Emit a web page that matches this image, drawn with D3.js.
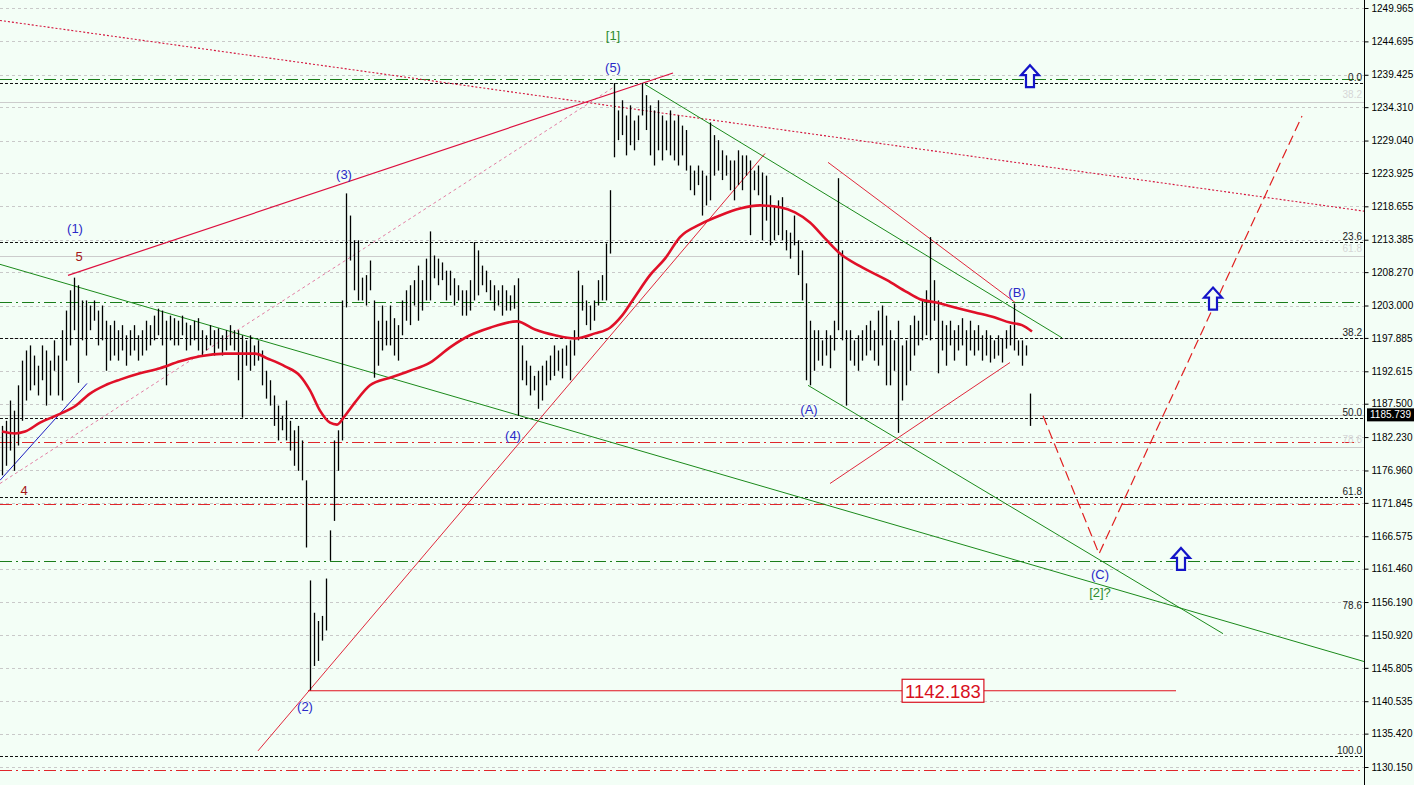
<!DOCTYPE html>
<html><head><meta charset="utf-8">
<script src="https://cdn.jsdelivr.net/npm/d3@7"></script>
<style>body{margin:0;background:#f3fef6;} svg{display:block;}</style>
</head><body><svg id="c" width="1414" height="785"></svg>
<script>
// ---------- DATA ----------
const priceTicks = [1249.965,1244.695,1239.425,1234.310,1229.040,1223.925,1218.655,1213.385,1208.270,1203.000,1197.885,1192.615,1187.500,1182.230,1176.960,1171.845,1166.575,1161.460,1156.190,1150.920,1145.805,1140.535,1135.420,1130.150];
const lastPrice = 1185.739;
const highs = [
1184.0,1184.8,1188.0,1186.4,1190.4,1194.3,1195.9,1196.7,1195.1,1193.5,
1196.7,1195.9,1194.3,1197.5,1195.1,1199.1,1202.2,1205.4,1207.4,1206.2,
1203.8,1203.8,1203.0,1203.8,1202.2,1203.0,1200.6,1199.9,1200.6,1199.1,
1199.9,1198.3,1199.1,1199.9,1198.3,1199.1,1200.6,1199.9,1201.4,1202.5,
1202.2,1200.6,1201.4,1201.0,1200.6,1201.4,1200.3,1199.9,1200.6,1201.0,
1199.1,1198.3,1199.9,1199.1,1199.4,1198.3,1199.1,1199.9,1199.1,1199.1,
1198.3,1197.5,1198.3,1196.7,1197.5,1195.9,1192.7,1191.2,1188.8,1187.2,
1185.6,1188.0,1184.8,1183.3,1184.0,1181.7,1175.4,1159.6,1154.5,1153.2,
1154.0,1159.9,1167.5,1181.7,1183.3,1203.8,1220.7,1217.2,1213.3,1213.3,
1207.4,1207.8,1210.1,1203.8,1200.6,1203.0,1200.6,1203.0,1201.0,1199.9,
1203.8,1205.4,1206.2,1207.0,1209.3,1207.0,1210.4,1214.7,1210.9,1210.4,
1209.8,1208.5,1208.5,1207.3,1206.2,1205.4,1205.4,1207.0,1213.0,1211.7,
1209.3,1208.5,1207.0,1206.2,1205.4,1206.2,1205.4,1204.6,1206.2,1207.3,
1196.7,1194.3,1193.5,1191.9,1192.7,1193.5,1194.3,1195.1,1196.7,1195.9,
1196.2,1196.7,1197.5,1199.1,1208.5,1206.2,1203.8,1203.0,1203.8,1207.0,
1207.8,1212.8,1221.2,1238.1,1233.8,1235.4,1233.0,1234.6,1232.2,1233.0,
1238.1,1236.2,1234.6,1233.8,1235.4,1233.0,1232.2,1233.8,1232.2,1233.0,
1231.4,1230.7,1225.1,1224.3,1225.1,1224.3,1223.5,1231.9,1229.9,1229.1,
1227.5,1226.7,1225.9,1225.9,1227.5,1226.7,1226.7,1225.9,1224.3,1225.1,
1224.0,1223.5,1220.4,1218.8,1219.6,1220.1,1214.9,1214.5,1217.2,1213.3,
1211.7,1206.5,1200.6,1199.1,1199.1,1197.5,1199.1,1198.3,1200.6,1223.1,
1211.7,1199.1,1199.1,1197.5,1198.3,1199.1,1199.9,1200.6,1199.1,1202.2,
1203.0,1201.4,1199.1,1197.5,1200.6,1196.7,1197.5,1199.9,1201.4,1200.6,
1203.8,1205.4,1213.8,1207.0,1203.8,1200.6,1199.9,1200.6,1199.1,1199.9,
1201.0,1199.1,1200.6,1199.1,1199.9,1198.3,1199.1,1198.3,1197.5,1198.3,
1197.8,1199.1,1199.9,1203.3,1197.5,1197.5,1196.7,1189.1];
const lows = [
1176.2,1177.7,1180.1,1176.9,1180.9,1184.8,1188.0,1189.6,1190.4,1188.8,
1191.2,1187.2,1188.8,1192.7,1188.8,1188.0,1194.3,1196.7,1199.1,1190.8,
1197.5,1195.1,1199.1,1200.6,1196.7,1197.5,1192.7,1194.3,1195.1,1194.3,
1195.9,1193.5,1195.1,1195.9,1194.3,1195.1,1195.9,1196.7,1197.5,1198.3,
1196.7,1190.4,1197.5,1196.7,1196.7,1198.3,1195.9,1196.7,1197.5,1195.9,
1195.1,1195.9,1196.7,1195.1,1196.2,1195.1,1195.9,1196.7,1195.9,1191.2,
1185.3,1193.5,1192.7,1193.5,1194.3,1190.4,1188.3,1187.2,1184.0,1181.7,
1183.3,1181.7,1180.1,1177.7,1176.9,1175.4,1164.8,1142.183,1146.1,1146.9,
1150.1,1151.7,1162.7,1169.0,1176.9,1181.7,1202.7,1210.1,1205.4,1203.8,
1203.8,1203.0,1205.4,1191.6,1193.5,1195.9,1196.7,1196.7,1195.1,1194.3,
1198.3,1200.6,1199.9,1203.0,1200.6,1202.2,1203.8,1203.8,1207.3,1206.2,
1207.0,1203.8,1204.6,1203.0,1203.8,1201.4,1201.4,1202.2,1203.8,1204.6,
1206.2,1205.1,1203.8,1202.2,1203.0,1201.4,1202.2,1202.2,1202.5,1185.6,
1191.2,1190.4,1188.8,1189.6,1186.7,1188.0,1190.4,1191.2,1191.9,1192.7,
1191.5,1193.5,1191.2,1195.1,1197.5,1202.2,1199.9,1199.1,1200.6,1203.0,
1203.8,1203.8,1211.2,1226.4,1229.1,1229.9,1226.7,1228.3,1227.5,1229.1,
1233.0,1230.7,1226.7,1225.1,1227.5,1225.9,1227.5,1226.7,1225.9,1225.1,
1226.7,1224.3,1221.2,1220.4,1222.0,1217.2,1218.8,1219.6,1223.5,1224.3,
1222.8,1223.5,1221.2,1219.6,1222.0,1221.2,1223.5,1214.1,1221.2,1220.4,
1213.3,1216.4,1212.5,1213.3,1214.1,1213.3,1211.7,1210.4,1212.5,1207.8,
1203.8,1191.2,1190.4,1192.7,1194.3,1193.5,1195.1,1193.1,1195.9,1199.1,
1197.5,1187.2,1194.3,1193.5,1192.7,1194.3,1195.1,1195.9,1194.3,1193.5,
1196.7,1190.4,1190.4,1192.7,1182.9,1188.0,1190.4,1192.7,1195.1,1196.7,
1197.5,1198.3,1197.5,1200.6,1192.3,1195.9,1193.5,1196.7,1194.3,1195.9,
1196.7,1193.5,1195.9,1195.1,1195.9,1194.3,1195.1,1194.0,1194.6,1195.1,
1194.0,1196.2,1196.7,1195.9,1195.1,1193.5,1195.1,1184.0];

// moving average (bar index, price)
const maIdx = [0,3.25,5.75,9.5,14.5,18.25,22,25.75,29.5,34.5,39.5,44.5,49.5,55.75,63.25,66.5,70.75,74.5,77,79.5,82,83.75,85.75,88.25,92,97,102,107,112,117,122,128.75,133.25,138.25,143.25,148.25,152,155,158.25,162,165.75,169.5,174.5,179.5,184.5,189.5,194.5,198.25,202,205.75,209.5,214.5,221.25,226.25,229.5,233.25,238.25,243.25,248.25,252,255,257.5];
const maVal = [1183.1,1182.8,1183.1,1184.5,1185.9,1187.1,1189.1,1190.4,1191.3,1192.3,1193.1,1194.2,1195.0,1195.4,1195.4,1194.6,1193.4,1191.9,1189.6,1186.4,1184.5,1184.2,1185.6,1187.7,1190.4,1191.6,1192.7,1194.0,1196.4,1198.3,1199.5,1200.5,1199.2,1198.3,1197.8,1198.6,1199.5,1201.4,1204.4,1207.8,1210.4,1213.8,1215.8,1217.2,1218.3,1218.8,1218.5,1217.7,1216.1,1213.6,1211.2,1209.2,1207.0,1205.1,1204.0,1203.5,1202.7,1201.9,1201.1,1200.3,1199.9,1198.9];

// Fibonacci levels
const fibLevels = [1238.2,1213.1,1197.8,1185.2,1172.7,1154.8,1131.9];
const fibLabels = ["0.0","23.6","38.2","50.0","61.8","78.6","100.0"];
const fibLabelOnly = ["78.6"];
const ghostLevels = [1235.2,1210.8,1180.6];
const ghostLabels = ["38.2","61.8","78.6"];
const greenLevels = [1238.7,1203.6,1162.6];
const redLevels = [1181.4,1171.6,1129.7];

// trend lines: [[i1,p1],[i2,p2]]
const redDotted = [[-0.5,1248.0],[340.5,1217.9]];
const redUpper = [[16.5,1207.75],[167.75,1239.7]];
const pinkDashed = [[-0.5,1174.9],[153.25,1237.6]];
const blueLine = [[-0.5,1175.4],[21.25,1190.7]];
const redRising = [[64,1132.7],[190.75,1227.0]];
const lowLevel = [[76.5,1142.183],[293.5,1142.183]];
const greenLong = [[-0.5,1209.5],[340.5,1146.8]];
const greenTop = [[160.75,1237.9],[265,1197.9]];
const greenWedge = [[201.5,1190.4],[305.25,1151.2]];
const redWedgeUp = [[206.5,1225.6],[253.25,1203.5]];
const redWedgeLow = [[207,1174.9],[252,1194.0]];
const projection = [[260.25,1185.6],[274.25,1163.8],[325,1232.9]];

// arrows (bar index, price)
const arrows = [[257,1239.2],[302.75,1204.1],[294.75,1163.0]];

// wave labels
const waveText = ["[1]","(5)","(3)","(1)","5","4","(4)","(2)","(A)","(B)","(C)","[2]?"];
const waveIdx = [152.75,152.75,85.5,18.25,19.25,5.5,127.75,75.75,201.75,253.75,274.5,274.5];
const wavePrice = [1244.9,1239.8,1222.9,1214.5,1210.0,1173.1,1181.8,1139.0,1185.9,1204.3,1159.9,1157.0];
const waveKind = ["g","b","b","b","r","r","b","b","b","b","b","g"];
const lowLabel = "1142.183";
const lowLabelIdx = 235.25;

// ---------- DRAW ----------
const svg = d3.select("#c");
const W = 1414, H = 785, plotR = 1364;
const x = d3.scaleLinear().domain([-0.5, 340.5]).range([0, plotR]);
const y = d3.scaleLinear().domain([1130.15, 1249.965]).range([767, 8]);
const font = "'Liberation Sans', Arial, sans-serif";

svg.append("rect").attr("width", W).attr("height", H).attr("fill", "#f3fef6");

const g = svg.append("g");
const hline = (p, color, dash, w) => g.append("line")
  .attr("x1", 0).attr("x2", plotR)
  .attr("y1", Math.round(y(p)) + 0.5).attr("y2", Math.round(y(p)) + 0.5)
  .attr("stroke", color).attr("stroke-width", w || 1)
  .attr("stroke-dasharray", dash);

// grid
priceTicks.forEach(p => hline(p, "#c9c9c9", "3,3"));
// ghost fib
ghostLevels.forEach(p => hline(p, "#cccccc", null));
hline(lastPrice, "#c4c4c4", null);
// green / red dash-dot
greenLevels.forEach(p => hline(p, "#1a7d1a", "12,4,2,4"));
redLevels.forEach(p => hline(p, "#e0262b", "12,4,2,4"));
// fib lines
fibLevels.forEach((p, k) => { if (!fibLabelOnly.includes(fibLabels[k])) hline(p, "#111", "3,2"); });

fibLevels.forEach((p, k) => g.append("text")
  .attr("x", 1362).attr("y", y(p) - 2).attr("text-anchor", "end")
  .attr("font-family", font).attr("font-size", "10px").attr("fill", "#222")
  .text(fibLabels[k]));
ghostLevels.forEach((p, k) => g.append("text")
  .attr("x", 1362).attr("y", y(p) - 4).attr("text-anchor", "end")
  .attr("font-family", font).attr("font-size", "10px").attr("fill", "#d6d6d6")
  .text(ghostLabels[k]));

// trend lines
const ln = d3.line().x(d => x(d[0])).y(d => y(d[1]));
const path = (pts, color, w, dash, op) => g.append("path").attr("d", ln(pts))
  .attr("fill", "none").attr("stroke", color).attr("stroke-width", w)
  .attr("stroke-dasharray", dash).attr("opacity", op == null ? 1 : op);

path(pinkDashed, "#e0709a", 1, "3,3", 0.9);
path(redDotted, "#d4143c", 1.1, "2,2");
path(redUpper, "#dd1040", 1.2, null);
path(blueLine, "#1c1cc0", 1, null);
path(redRising, "#e0283c", 1, null);
path(greenLong, "#1b8a1b", 1, null);
path(greenTop, "#1b8a1b", 1, null);
path(greenWedge, "#1b8a1b", 1, null);
path(redWedgeUp, "#e0283c", 1, null);
path(redWedgeLow, "#e0283c", 1, null);
path(projection, "#e02020", 1.2, "10,5");

// bars
g.append("g").selectAll("line").data(highs).join("line")
  .attr("x1", (d, i) => Math.round(x(i)) + 0.5).attr("x2", (d, i) => Math.round(x(i)) + 0.5)
  .attr("y1", d => y(d)).attr("y2", (d, i) => y(lows[i]))
  .attr("stroke", "#000").attr("stroke-width", 1.3);

// low level line
path(lowLevel, "#e0101e", 1.2, null);

// MA
g.append("path").attr("d", d3.line().curve(d3.curveMonotoneX).x(d => x(d)).y((d, k) => y(maVal[k]))(maIdx))
  .attr("fill", "none").attr("stroke", "#e01028").attr("stroke-width", 2.6);

// arrows
const arrowShape = "M0,-11 L9,-1 L4,-1 L4,11 L-4,11 L-4,-1 L-9,-1 Z";
arrows.forEach(a => g.append("path").attr("d", arrowShape)
  .attr("transform", `translate(${x(a[0])},${y(a[1])})`)
  .attr("fill", "#f3fef6").attr("stroke", "#1414c8").attr("stroke-width", 2.2)
  .attr("stroke-linejoin", "miter"));

// wave labels
const colors = {g: "#2e8b2e", b: "#2a2ac8", r: "#a51818"};
waveText.forEach((t, k) => g.append("text")
  .attr("x", x(waveIdx[k])).attr("y", y(wavePrice[k])).attr("text-anchor", "middle")
  .attr("font-family", font).attr("font-size", "13px").attr("fill", colors[waveKind[k]])
  .text(t));

// low label box
const lbx = x(lowLabelIdx), lby = y(1142.183);
const lbT = g.append("text").attr("x", lbx).attr("y", lby + 7).attr("text-anchor", "middle")
  .attr("font-family", font).attr("font-size", "18.5px").attr("fill", "#d8101e").text(lowLabel);
const bb = lbT.node().getBBox();
g.insert("rect", () => lbT.node()).attr("x", bb.x - 3).attr("y", lby - 11.5).attr("width", bb.width + 6).attr("height", 23)
  .attr("fill", "#ffffff").attr("stroke", "#d8101e").attr("stroke-width", 1.2);

// axis
const ax = svg.append("g").attr("transform", `translate(${plotR + 0.5},0)`)
  .call(d3.axisRight(y).tickValues(priceTicks).tickFormat(d3.format(".3f")).tickSize(4).tickPadding(3));
ax.select(".domain").attr("stroke", "#000").attr("d", `M0,0V${H}`);
ax.selectAll(".tick line").attr("stroke", "#000");
ax.selectAll(".tick text").attr("font-family", font).attr("font-size", "10px").attr("fill", "#000");

// last price box
const ly = y(lastPrice);
svg.append("rect").attr("x", plotR + 3).attr("y", ly - 6.5).attr("width", 47).attr("height", 13).attr("fill", "#000");
svg.append("text").attr("x", plotR + 6).attr("y", ly + 3.5).attr("font-family", font).attr("font-size", "10px")
  .attr("fill", "#fff").text(d3.format(".3f")(lastPrice));
</script></body></html>
